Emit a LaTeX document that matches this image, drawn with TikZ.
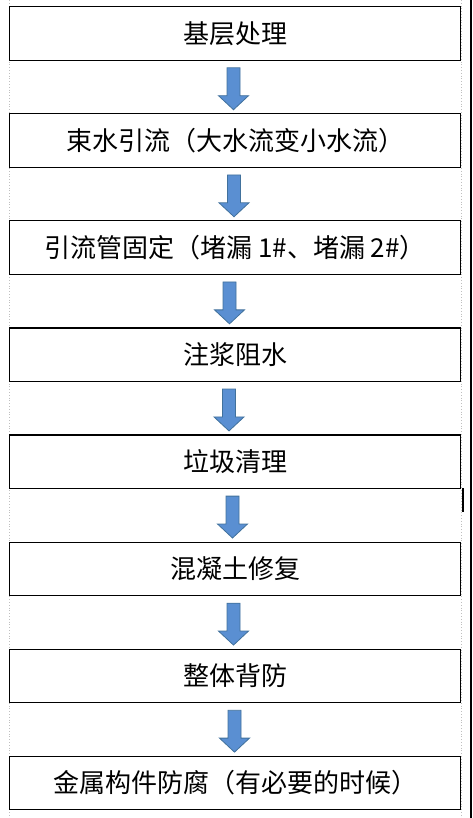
\documentclass[tikz,border=0pt]{standalone}
\usepackage{fontspec}
\newfontfamily\cjk{Noto Sans CJK SC}
\usepackage{xcolor}
\usetikzlibrary{calc}
\definecolor{ArrowFill}{HTML}{5A8FD2}
\definecolor{ArrowEdge}{HTML}{41719C}
\tikzset{
    stepbox/.style={draw, line width=1.2pt, fill=white, minimum width=451pt, minimum height=53.5pt, inner sep=0pt, font=\cjk\fontsize{26}{30}\selectfont},
    flow/.style={fill=ArrowFill, draw=ArrowEdge, line width=0.8pt, line join=miter}
}

\begin{document}
\begin{tikzpicture}[x=1pt, y=-1pt]
        \useasboundingbox (0, 0) rectangle (472, 818);

        \draw[black!25, dotted, line width=0.8pt] (9.5, 0) -- (9.5, 818);
        \draw[black!25, dotted, line width=0.8pt] (461, 0) -- (461, 818);
        \draw[line width=2pt] (470.8, 0) -- (470.8, 818);
        \draw[line width=1.8pt] (462.8, 488) -- (462.8, 512);

        \foreach \i/\t in {1/基层处理, 2/束水引流（大水流变小水流）, 3/引流管固定（堵漏 1\#、堵漏 2\#）, 4/注浆阻水, 5/垃圾清理, 6/混凝土修复, 7/整体背防, 8/金属构件防腐（有必要的时候）} {
            \node[stepbox] (b\i) at (235, {33.5 + 107.07*(\i - 1)}) {\t};
        }

        \foreach \a/\b/\x in {b1/b2/233.5, b2/b3/234, b3/b4/229.5, b4/b5/229, b5/b6/232.5, b6/b7/233.5, b7/b8/234.5} {
            \path (\x, 0 |- \a.south) ++(0, 7) coordinate (s);
            \path (\x, 0 |- \b.north) ++(0, -3.5) coordinate (t);
            \draw[flow] ($(s) + (-6.5, 0)$) -- ($(s) + (6.5, 0)$) -- ($(t) + (6.5, -14)$) -- ($(t) + (15, -14)$) -- (t) -- ($(t) + (-15, -14)$) -- ($(t) + (-6.5, -14)$) -- cycle;
        }
    \end{tikzpicture}
\end{document}
